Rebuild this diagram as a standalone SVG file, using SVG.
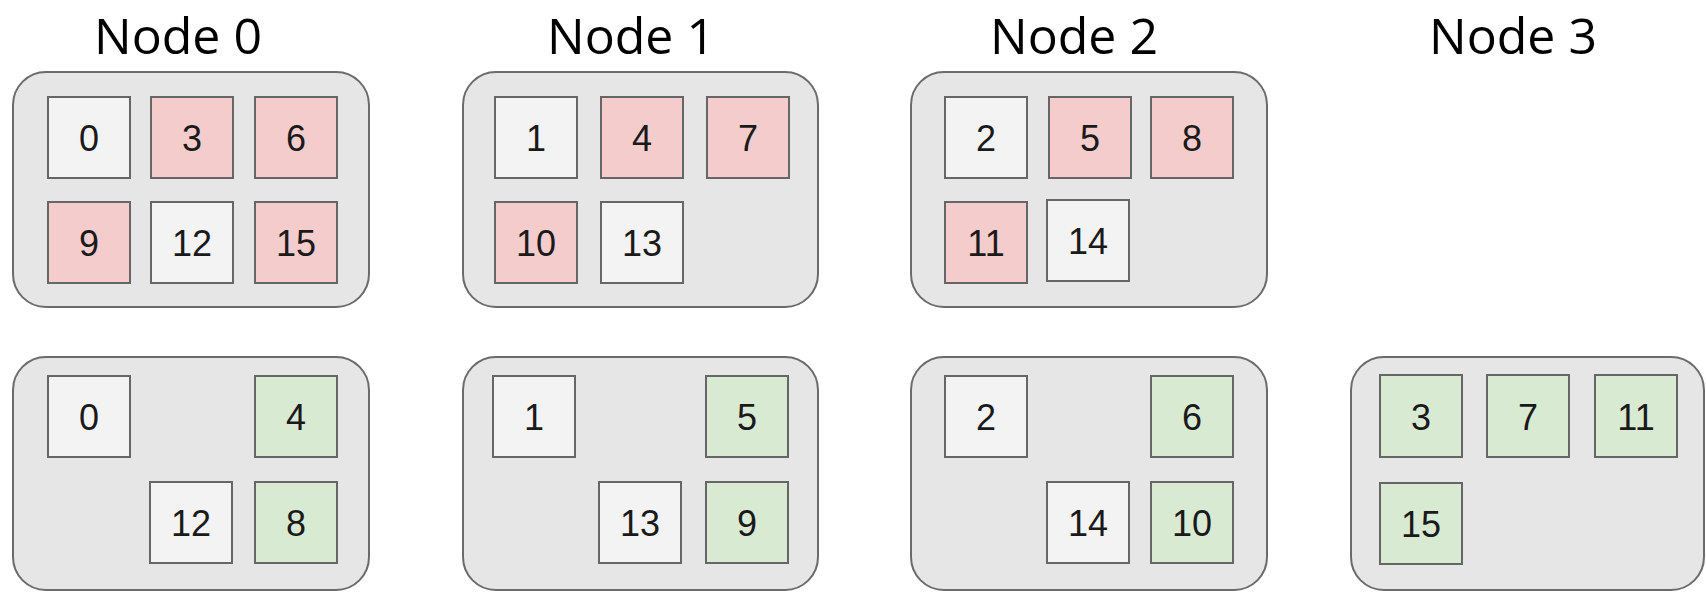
<svg xmlns="http://www.w3.org/2000/svg" width="1706" height="592" viewBox="0 0 1706 592">
  <style>
    .title { font-family: "Open Sans", "Noto Sans", sans-serif; font-size: 50px; fill: #000; text-anchor: middle; }
    .box { fill: #e6e6e6; stroke: #6b6b6b; stroke-width: 2; }
    .cell { stroke: #666; stroke-width: 2; }
    .w { fill: #f3f3f3; }
    .r { fill: #f4cccc; }
    .g { fill: #d9ead3; }
    .num { font-family: "Liberation Sans", Arial, sans-serif; font-size: 36px; fill: #1a1a1a; text-anchor: middle; }
  </style>
  <rect width="1706" height="592" fill="#ffffff"/>

  <!-- column titles -->
  <g id="titles">
    <text class="title" x="178" y="54">Node 0</text>
    <text class="title" x="631" y="54">Node 1</text>
    <text class="title" x="1074" y="54">Node 2</text>
    <text class="title" x="1513" y="54">Node 3</text>
  </g>

  <!-- upper row: initial placement -->
  <g id="node0-top">
    <rect class="box" x="13" y="72" width="356" height="235" rx="33"/>
    <rect class="cell w" x="48" y="97" width="82" height="81"/><text class="num" x="89" y="151">0</text>
    <rect class="cell r" x="151" y="97" width="82" height="81"/><text class="num" x="192" y="151">3</text>
    <rect class="cell r" x="255" y="97" width="82" height="81"/><text class="num" x="296" y="151">6</text>
    <rect class="cell r" x="48" y="202" width="82" height="81"/><text class="num" x="89" y="256">9</text>
    <rect class="cell w" x="151" y="202" width="82" height="81"/><text class="num" x="192" y="256">12</text>
    <rect class="cell r" x="255" y="202" width="82" height="81"/><text class="num" x="296" y="256">15</text>
  </g>

  <g id="node1-top">
    <rect class="box" x="463" y="72" width="355" height="235" rx="33"/>
    <rect class="cell w" x="495" y="97" width="82" height="81"/><text class="num" x="536" y="151">1</text>
    <rect class="cell r" x="601" y="97" width="82" height="81"/><text class="num" x="642" y="151">4</text>
    <rect class="cell r" x="707" y="97" width="82" height="81"/><text class="num" x="748" y="151">7</text>
    <rect class="cell r" x="495" y="202" width="82" height="81"/><text class="num" x="536" y="256">10</text>
    <rect class="cell w" x="601" y="202" width="82" height="81"/><text class="num" x="642" y="256">13</text>
  </g>

  <g id="node2-top">
    <rect class="box" x="911" y="72" width="356" height="235" rx="33"/>
    <rect class="cell w" x="945" y="97" width="82" height="81"/><text class="num" x="986" y="151">2</text>
    <rect class="cell r" x="1049" y="97" width="82" height="81"/><text class="num" x="1090" y="151">5</text>
    <rect class="cell r" x="1151" y="97" width="82" height="81"/><text class="num" x="1192" y="151">8</text>
    <rect class="cell r" x="945" y="202" width="82" height="81"/><text class="num" x="986" y="256">11</text>
    <rect class="cell w" x="1047" y="200" width="82" height="81"/><text class="num" x="1088" y="254">14</text>
  </g>

  <!-- lower row: after redistribution -->
  <g id="node0-bottom">
    <rect class="box" x="13" y="357" width="356" height="233" rx="33"/>
    <rect class="cell w" x="48" y="376" width="82" height="81"/><text class="num" x="89" y="430">0</text>
    <rect class="cell g" x="255" y="376" width="82" height="81"/><text class="num" x="296" y="430">4</text>
    <rect class="cell w" x="150" y="482" width="82" height="81"/><text class="num" x="191" y="536">12</text>
    <rect class="cell g" x="255" y="482" width="82" height="81"/><text class="num" x="296" y="536">8</text>
  </g>

  <g id="node1-bottom">
    <rect class="box" x="463" y="357" width="355" height="233" rx="33"/>
    <rect class="cell w" x="493" y="376" width="82" height="81"/><text class="num" x="534" y="430">1</text>
    <rect class="cell g" x="706" y="376" width="82" height="81"/><text class="num" x="747" y="430">5</text>
    <rect class="cell w" x="599" y="482" width="82" height="81"/><text class="num" x="640" y="536">13</text>
    <rect class="cell g" x="706" y="482" width="82" height="81"/><text class="num" x="747" y="536">9</text>
  </g>

  <g id="node2-bottom">
    <rect class="box" x="911" y="357" width="356" height="233" rx="33"/>
    <rect class="cell w" x="945" y="376" width="82" height="81"/><text class="num" x="986" y="430">2</text>
    <rect class="cell g" x="1151" y="376" width="82" height="81"/><text class="num" x="1192" y="430">6</text>
    <rect class="cell w" x="1047" y="482" width="82" height="81"/><text class="num" x="1088" y="536">14</text>
    <rect class="cell g" x="1151" y="482" width="82" height="81"/><text class="num" x="1192" y="536">10</text>
  </g>

  <g id="node3-bottom">
    <rect class="box" x="1351" y="357" width="353" height="233" rx="33"/>
    <rect class="cell g" x="1380" y="375" width="82" height="82"/><text class="num" x="1421" y="430">3</text>
    <rect class="cell g" x="1487" y="375" width="82" height="82"/><text class="num" x="1528" y="430">7</text>
    <rect class="cell g" x="1595" y="375" width="82" height="82"/><text class="num" x="1636" y="430">11</text>
    <rect class="cell g" x="1380" y="483" width="82" height="81"/><text class="num" x="1421" y="537">15</text>
  </g>

  <!-- no connectors in this figure -->
  <g id="connectors"/>
</svg>
